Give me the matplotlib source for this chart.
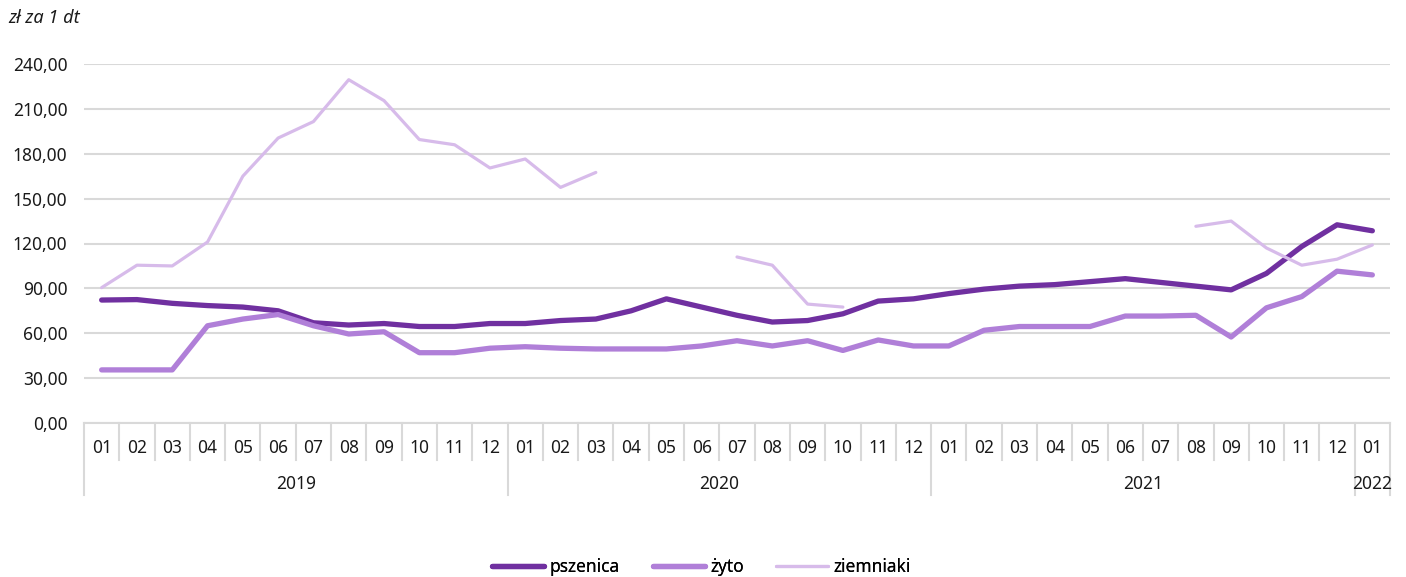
import numpy as np
import matplotlib
matplotlib.use("Agg")
import matplotlib.pyplot as plt
import matplotlib.transforms as mtransforms

plt.rcParams['font.family'] = ['Noto Sans', 'DejaVu Sans']

nan = np.nan
months = ["01", "02", "03", "04", "05", "06", "07", "08", "09", "10", "11", "12"] * 3 + ["01"]
years = ["2019", "2020", "2021", "2022"]
year_counts = [12, 12, 12, 1]

pszenica = [82.2, 82.5, 80.0, 78.5, 77.5, 75.0, 67.0, 65.5, 66.5, 64.5, 64.5, 66.5,
            66.5, 68.5, 69.5, 75.0, 83.0, 77.5, 72.0, 67.5, 68.5, 73.0, 81.5, 83.0,
            86.5, 89.5, 91.5, 92.5, 94.5, 96.5, 94.0, 91.5, 89.0, 100.0, 118.0, 132.5,
            128.5]
zyto = [35.5, 35.5, 35.5, 65.0, 69.5, 72.5, 65.0, 59.5, 61.0, 47.0, 47.0, 50.0,
        51.0, 50.0, 49.5, 49.5, 49.5, 51.5, 55.0, 51.5, 55.0, 48.5, 55.5, 51.5,
        51.5, 62.0, 64.5, 64.5, 64.5, 71.5, 71.5, 72.0, 57.5, 77.0, 84.5, 101.5,
        99.0]
ziemniaki = [90.5, 105.5, 105.0, 121.0, 165.0, 190.5, 201.5, 229.5, 215.5, 189.5, 186.0, 170.5,
             176.5, 157.5, 167.5, nan, nan, nan, 111.0, 105.5, 79.5, 77.5, nan, nan,
             nan, nan, nan, nan, nan, nan, nan, 131.5, 135.0, 117.0, 105.5, 109.5,
             119.0]
series_names = ["pszenica", "żyto", "ziemniaki"]
colors = ["#7030A0", "#B07FD8", "#D7BBEA"]
widths = [3.8, 3.8, 2.3]
yticks = [0, 30, 60, 90, 120, 150, 180, 210, 240]

W, H = 1406, 577
fig = plt.figure(figsize=(W / 100, H / 100), dpi=100)
ax_l, ax_r, ax_b, ax_t = 84, 1390, 423, 64
ax = fig.add_axes([ax_l / W, 1 - ax_b / H, (ax_r - ax_l) / W, (ax_b - ax_t) / H])

x = np.arange(len(months))
lines = []
for vals, name, c, lw in zip([pszenica, zyto, ziemniaki], series_names, colors, widths):
    ln, = ax.plot(x, np.array(vals, dtype=float), color=c, lw=lw, label=name,
                  solid_capstyle='round', solid_joinstyle='round', clip_on=False, zorder=3)
    lines.append(ln)

ax.set_xlim(-0.5, len(months) - 0.5)
ax.set_ylim(0, 240)
ax.set_yticks(yticks)
ax.set_yticklabels([f"{v:.2f}".replace(".", ",") for v in yticks], fontsize=12.5, color="#1a1a1a")
ax.tick_params(axis='y', length=0, pad=12)
ax.set_xticks([])
for s in ["top", "right", "left"]:
    ax.spines[s].set_visible(False)
ax.spines["bottom"].set_color("#d9d9d9")
ax.spines["bottom"].set_linewidth(1.5)
ax.grid(axis='y', color="#d9d9d9", lw=1.5)
ax.set_axisbelow(True)

trans = mtransforms.blended_transform_factory(ax.transData, ax.transAxes)
axh = ax_b - ax_t
month_len = 37 / axh
year_len = 72 / axh
year_bounds = np.concatenate([[0], np.cumsum(year_counts)]) - 0.5
for i in range(len(months) + 1):
    xb = i - 0.5
    L = year_len if np.any(np.isclose(year_bounds, xb)) else month_len
    ax.plot([xb, xb], [0, -L], transform=trans, color="#d9d9d9", lw=1.5, clip_on=False)
for i, m in enumerate(months):
    ax.text(i, -25 / axh, m, transform=trans, ha='center', va='center', fontsize=12.5, color="#1a1a1a")
for k, yname in enumerate(years):
    c = (year_bounds[k] + year_bounds[k + 1]) / 2
    ax.text(c, -61 / axh, yname, transform=trans, ha='center', va='center', fontsize=12.5, color="#1a1a1a")

fig.text(8 / W, 1 - 18 / H, "zł za 1 dt", style='italic', fontsize=13, ha='left', va='center', color="#1a1a1a")

legend_x = [492, 653, 776]
for ln, lx in zip(lines, legend_x):
    lg = fig.legend(handles=[ln], loc='center left', bbox_to_anchor=(lx / W, 1 - 567 / H),
                    frameon=False, fontsize=12.5, handlelength=3.0, handletextpad=0.3,
                    borderpad=0, borderaxespad=0)
    fig.add_artist(lg)

fig.savefig("out.png", dpi=100)
